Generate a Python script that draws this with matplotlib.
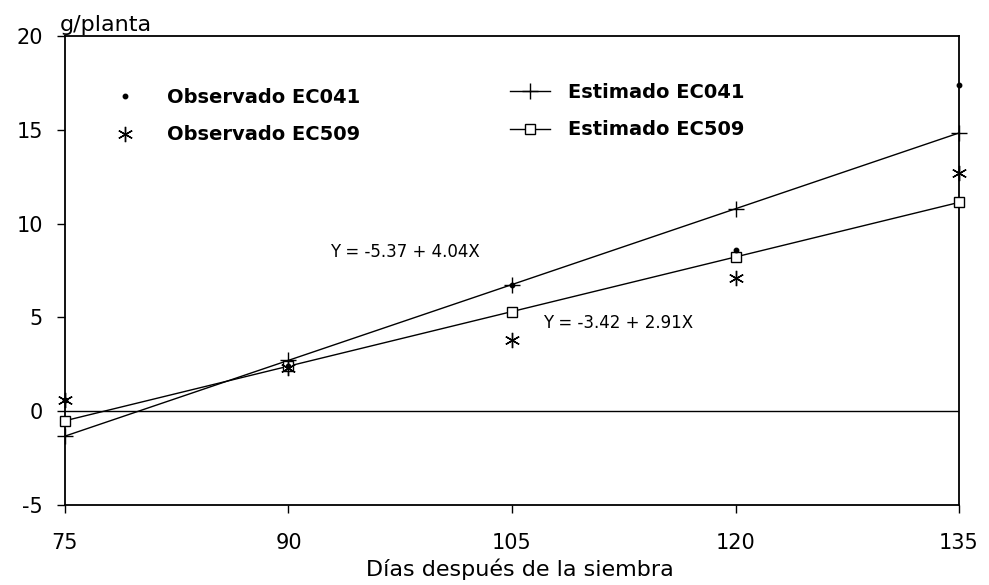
import matplotlib
matplotlib.use("Agg")
import matplotlib.pyplot as plt

# días después de la siembra
dias = [75, 90, 105, 120, 135]

# valores observados (g/planta)
obs_ec041 = [0.6, 2.4, 6.75, 8.6, 17.4]
obs_ec509 = [0.6, 2.3, 3.8, 7.1, 12.7]

# valores estimados por las regresiones lineales
est_ec041 = [-1.33, 2.71, 6.75, 10.79, 14.83]
est_ec509 = [-0.51, 2.40, 5.31, 8.22, 11.13]

eq_ec041 = "Y = -5.37 + 4.04X"
eq_ec509 = "Y = -3.42 + 2.91X"

plt.rcParams['font.family'] = ['DejaVu Sans']
plt.rcParams['axes.unicode_minus'] = False

fig = plt.figure(figsize=(9.89, 5.85), dpi=100)
ax = fig.add_axes([0.0657, 0.1368, 0.904, 0.8017])

lw = 1.0
l1, = ax.plot(dias, est_ec041, color='black', lw=lw, marker='+', ms=11,
              mew=1.0, clip_on=False, zorder=3)
l2, = ax.plot(dias, est_ec509, color='black', lw=lw, marker='s', ms=7,
              mfc='white', mec='black', mew=1.0, clip_on=False, zorder=3)
p1, = ax.plot(dias, obs_ec041, ls='none', marker='o', ms=3.2, color='black',
              clip_on=False, zorder=4)
p2, = ax.plot(dias, obs_ec509, ls='none', marker=(6, 2, 0), ms=11, mew=1.0,
              color='black', clip_on=False, zorder=4)

ax.axhline(0, color='black', lw=1.0)

ax.set_xlim(75, 135)
ax.set_ylim(-5, 20)
ax.set_xticks(dias)
ax.set_yticks([-5, 0, 5, 10, 15, 20])
ax.tick_params(axis='both', direction='out', length=6, width=1.0,
               labelsize=15, colors='black')
ax.tick_params(axis='x', pad=14)
ax.tick_params(axis='y', pad=10)
for s in ax.spines.values():
    s.set_linewidth(1.3)

ax.text(92.8, 8.5, eq_ec041, fontsize=12, va='center', ha='left')
ax.text(107.1, 4.7, eq_ec509, fontsize=12, va='center', ha='left')

ax.set_xlabel("Días después de la siembra", fontsize=16)
ax.xaxis.set_label_coords(0.509, -0.115)
fig.text(60 / 989, 1 - 25 / 585, "g/planta", fontsize=16, va='center', ha='left')

leg_font = {'size': 14, 'weight': 'bold'}
leg1 = ax.legend([p1, p2], ["Observado EC041", "Observado EC509"],
                 loc='upper left', bbox_to_anchor=(115 / 989, 1 - 88 / 585),
                 bbox_transform=fig.transFigure, frameon=False, prop=leg_font,
                 handlelength=1.0, handletextpad=1.68, labelspacing=0.95,
                 borderpad=0, borderaxespad=0)
ax.add_artist(leg1)
ax.legend([l1, l2], ["Estimado EC041", "Estimado EC509"],
          loc='upper left', bbox_to_anchor=(510 / 989, 1 - 83 / 585),
          bbox_transform=fig.transFigure, frameon=False, prop=leg_font,
          handlelength=2.06, handletextpad=0.93, labelspacing=0.95,
          borderpad=0, borderaxespad=0)

fig.savefig("out.png", dpi=100)
